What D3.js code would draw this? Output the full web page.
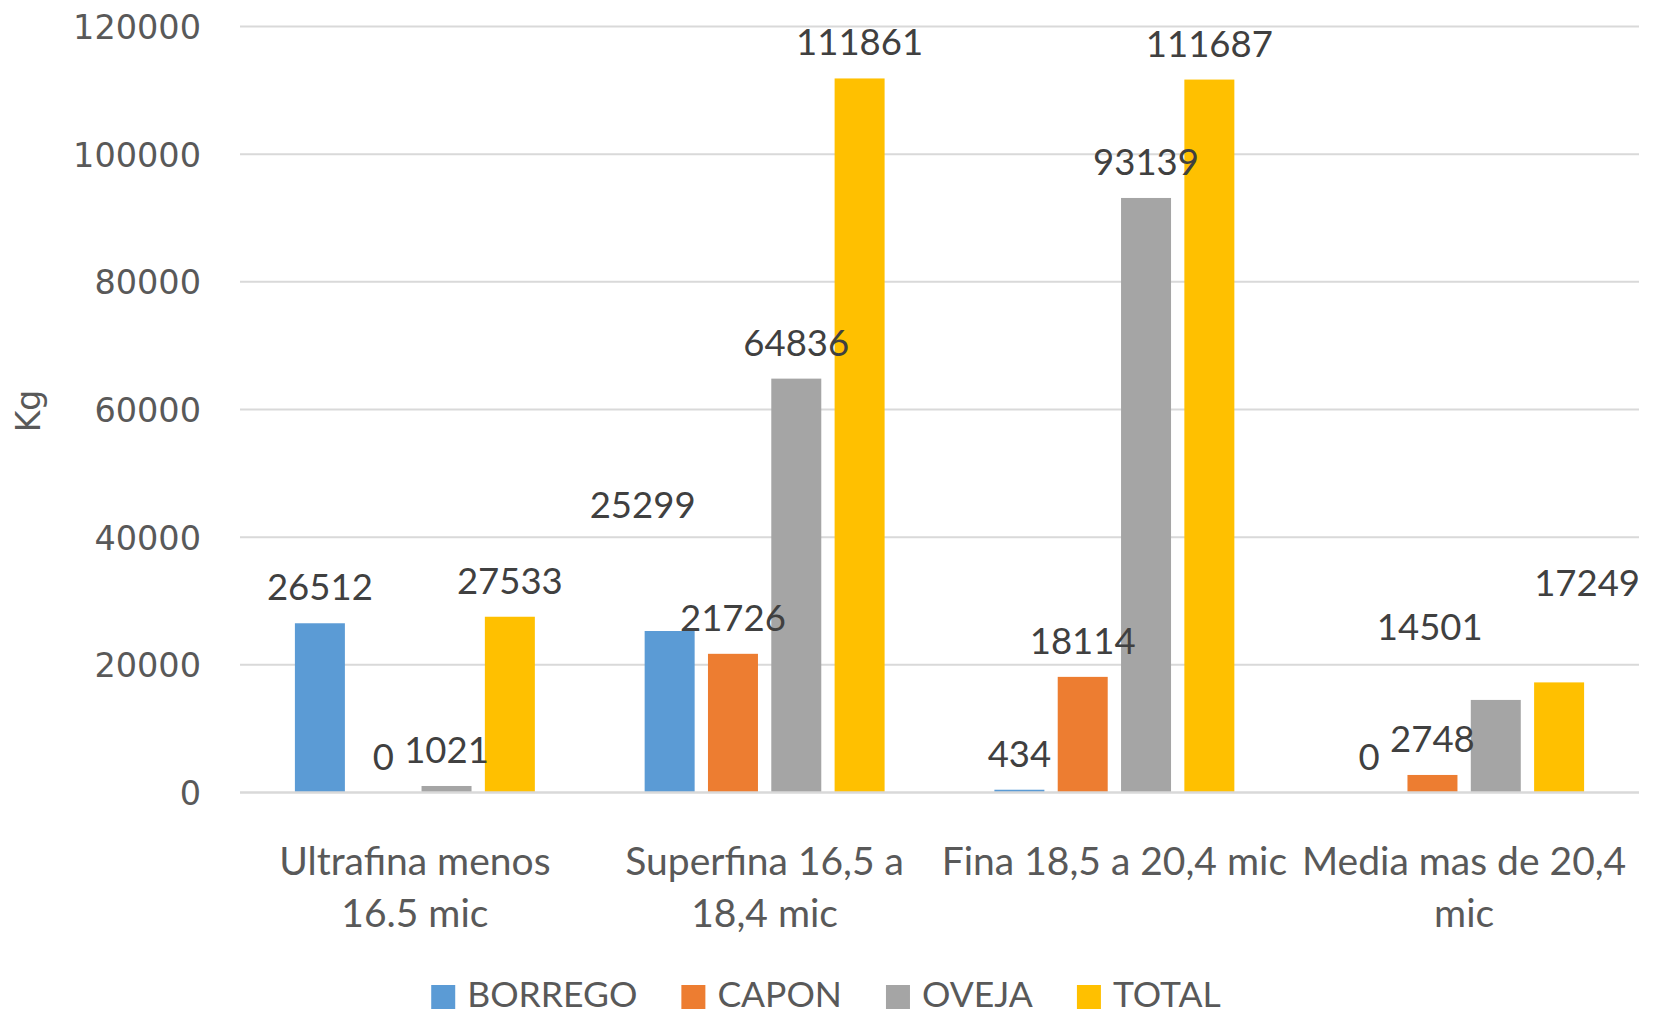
<!DOCTYPE html>
<html>
<head>
<meta charset="utf-8">
<script src="https://cdn.jsdelivr.net/npm/d3@7"></script>
<style>
  html, body { margin: 0; padding: 0; background: #fff; }
  svg { display: block; }
</style>
</head>
<body>
<svg id="chart" width="1660" height="1015"></svg>
<script>
// Wool production by fibre fineness (kg)
const categories = [
  "Ultrafina menos 16.5 mic",
  "Superfina 16,5 a 18,4 mic",
  "Fina 18,5 a 20,4 mic",
  "Media mas de 20,4 mic"
];
const categoryLines = [
  ["Ultrafina menos", "16.5 mic"],
  ["Superfina 16,5 a", "18,4 mic"],
  ["Fina 18,5 a 20,4 mic"],
  ["Media mas de 20,4", "mic"]
];
const seriesNames = ["BORREGO", "CAPON", "OVEJA", "TOTAL"];
const borrego = [26512, 25299, 434, 0];
const capon   = [0, 21726, 18114, 2748];
const oveja   = [1021, 64836, 93139, 14501];
const total   = [27533, 111861, 111687, 17249];
const yTicks  = [0, 20000, 40000, 60000, 80000, 100000, 120000];
const yTitle  = "Kg";

const seriesValues = [borrego, capon, oveja, total];
const colors = ["#5B9BD5", "#ED7D31", "#A5A5A5", "#FFC000"];

// Hand-placed data labels: [category index, series index, dx, dy]
const labelNudges = [
  [1, 0, -27, -90],
  [3, 2, -66, -37],
  [3, 3, 28, -63]
];

const calibriLike = "Lato, 'Open Sans', sans-serif";
const axisFont = "'DejaVu Sans', Verdana, sans-serif";

const svg = d3.select("#chart");

const plot = { left: 240, right: 1639, top: 26.5, bottom: 792.5 };

const x0 = d3.scaleBand()
  .domain(categories)
  .range([plot.left, plot.right])
  .paddingInner(0)
  .paddingOuter(0);

const x1 = d3.scaleBand()
  .domain(seriesNames)
  .range([0, x0.bandwidth()])
  .paddingInner(0.2105)
  .paddingOuter(0.867);

const y = d3.scaleLinear()
  .domain([0, 120000])
  .range([plot.bottom, plot.top]);

// Horizontal gridlines
svg.append("g")
  .selectAll("line")
  .data(yTicks.filter(d => d > 0))
  .join("line")
  .attr("x1", plot.left)
  .attr("x2", plot.right)
  .attr("y1", d => y(d))
  .attr("y2", d => y(d))
  .attr("stroke", "#d9d9d9")
  .attr("stroke-width", 2);

// Y axis tick labels (no axis line)
const yAxis = d3.axisLeft(y).tickValues(yTicks).tickSize(0).tickPadding(0)
  .tickFormat(d3.format("d"));
const yG = svg.append("g")
  .attr("transform", `translate(${201},0)`)
  .call(yAxis);
yG.select(".domain").remove();
yG.selectAll("text")
  .attr("font-family", axisFont)
  .attr("font-size", 33.5)
  .attr("fill", "#595959")
  .attr("dy", "0.36em");

// Y axis title
svg.append("text")
  .attr("transform", `translate(40,${411}) rotate(-90)`)
  .attr("text-anchor", "middle")
  .attr("font-family", axisFont)
  .attr("font-size", 33)
  .attr("fill", "#595959")
  .text(yTitle);

// Bars
const groups = svg.append("g")
  .selectAll("g")
  .data(categories)
  .join("g")
  .attr("transform", d => `translate(${x0(d)},0)`);

groups.selectAll("rect")
  .data((c, ci) => seriesNames.map((s, si) => ({ s, si, ci, v: seriesValues[si][ci] })))
  .join("rect")
  .attr("x", d => x1(d.s))
  .attr("width", x1.bandwidth())
  .attr("y", d => y(d.v))
  .attr("height", d => y(0) - y(d.v))
  .attr("fill", d => colors[d.si]);

// Category axis baseline
svg.append("line")
  .attr("x1", plot.left)
  .attr("x2", plot.right)
  .attr("y1", y(0))
  .attr("y2", y(0))
  .attr("stroke", "#d9d9d9")
  .attr("stroke-width", 2.5);

// Data labels
const labelData = [];
categories.forEach((c, ci) => {
  seriesNames.forEach((s, si) => {
    const v = seriesValues[si][ci];
    const n = labelNudges.find(k => k[0] === ci && k[1] === si);
    labelData.push({
      v,
      x: x0(c) + x1(s) + x1.bandwidth() / 2 + (n ? n[2] : 0),
      y: y(v) - 23 + (n ? n[3] : 0)
    });
  });
});

svg.append("g")
  .selectAll("text")
  .data(labelData)
  .join("text")
  .attr("x", d => d.x)
  .attr("y", d => d.y)
  .attr("text-anchor", "middle")
  .attr("font-family", calibriLike)
  .attr("font-size", 36.5)
  .attr("fill", "#404040")
  .text(d => d.v);

// Category labels
const catG = svg.append("g");
categories.forEach((c, ci) => {
  const t = catG.append("text")
    .attr("x", x0(c) + x0.bandwidth() / 2)
    .attr("y", 875)
    .attr("text-anchor", "middle")
    .attr("font-family", calibriLike)
    .attr("font-size", 39)
    .attr("fill", "#595959");
  categoryLines[ci].forEach((line, li) => {
    t.append("tspan")
      .attr("x", x0(c) + x0.bandwidth() / 2)
      .attr("dy", li === 0 ? 0 : 52)
      .text(line);
  });
});

// Legend
const legend = svg.append("g");
const items = legend.selectAll("g")
  .data(seriesNames)
  .join("g");
items.append("rect")
  .attr("width", 24)
  .attr("height", 24)
  .attr("y", 985)
  .attr("fill", (d, i) => colors[i]);
items.append("text")
  .attr("x", 36)
  .attr("y", 1007)
  .attr("font-family", calibriLike)
  .attr("font-size", 35.5)
  .attr("fill", "#595959")
  .text(d => d);

let cursor = 0;
const offsets = [];
items.each(function () {
  offsets.push(cursor);
  const w = d3.select(this).select("text").node().getComputedTextLength();
  cursor += 36 + w + 44;
});
const legendWidth = cursor - 44;
const legendStart = 826 - legendWidth / 2;
items.attr("transform", (d, i) => `translate(${legendStart + offsets[i]},0)`);
</script>
</body>
</html>
